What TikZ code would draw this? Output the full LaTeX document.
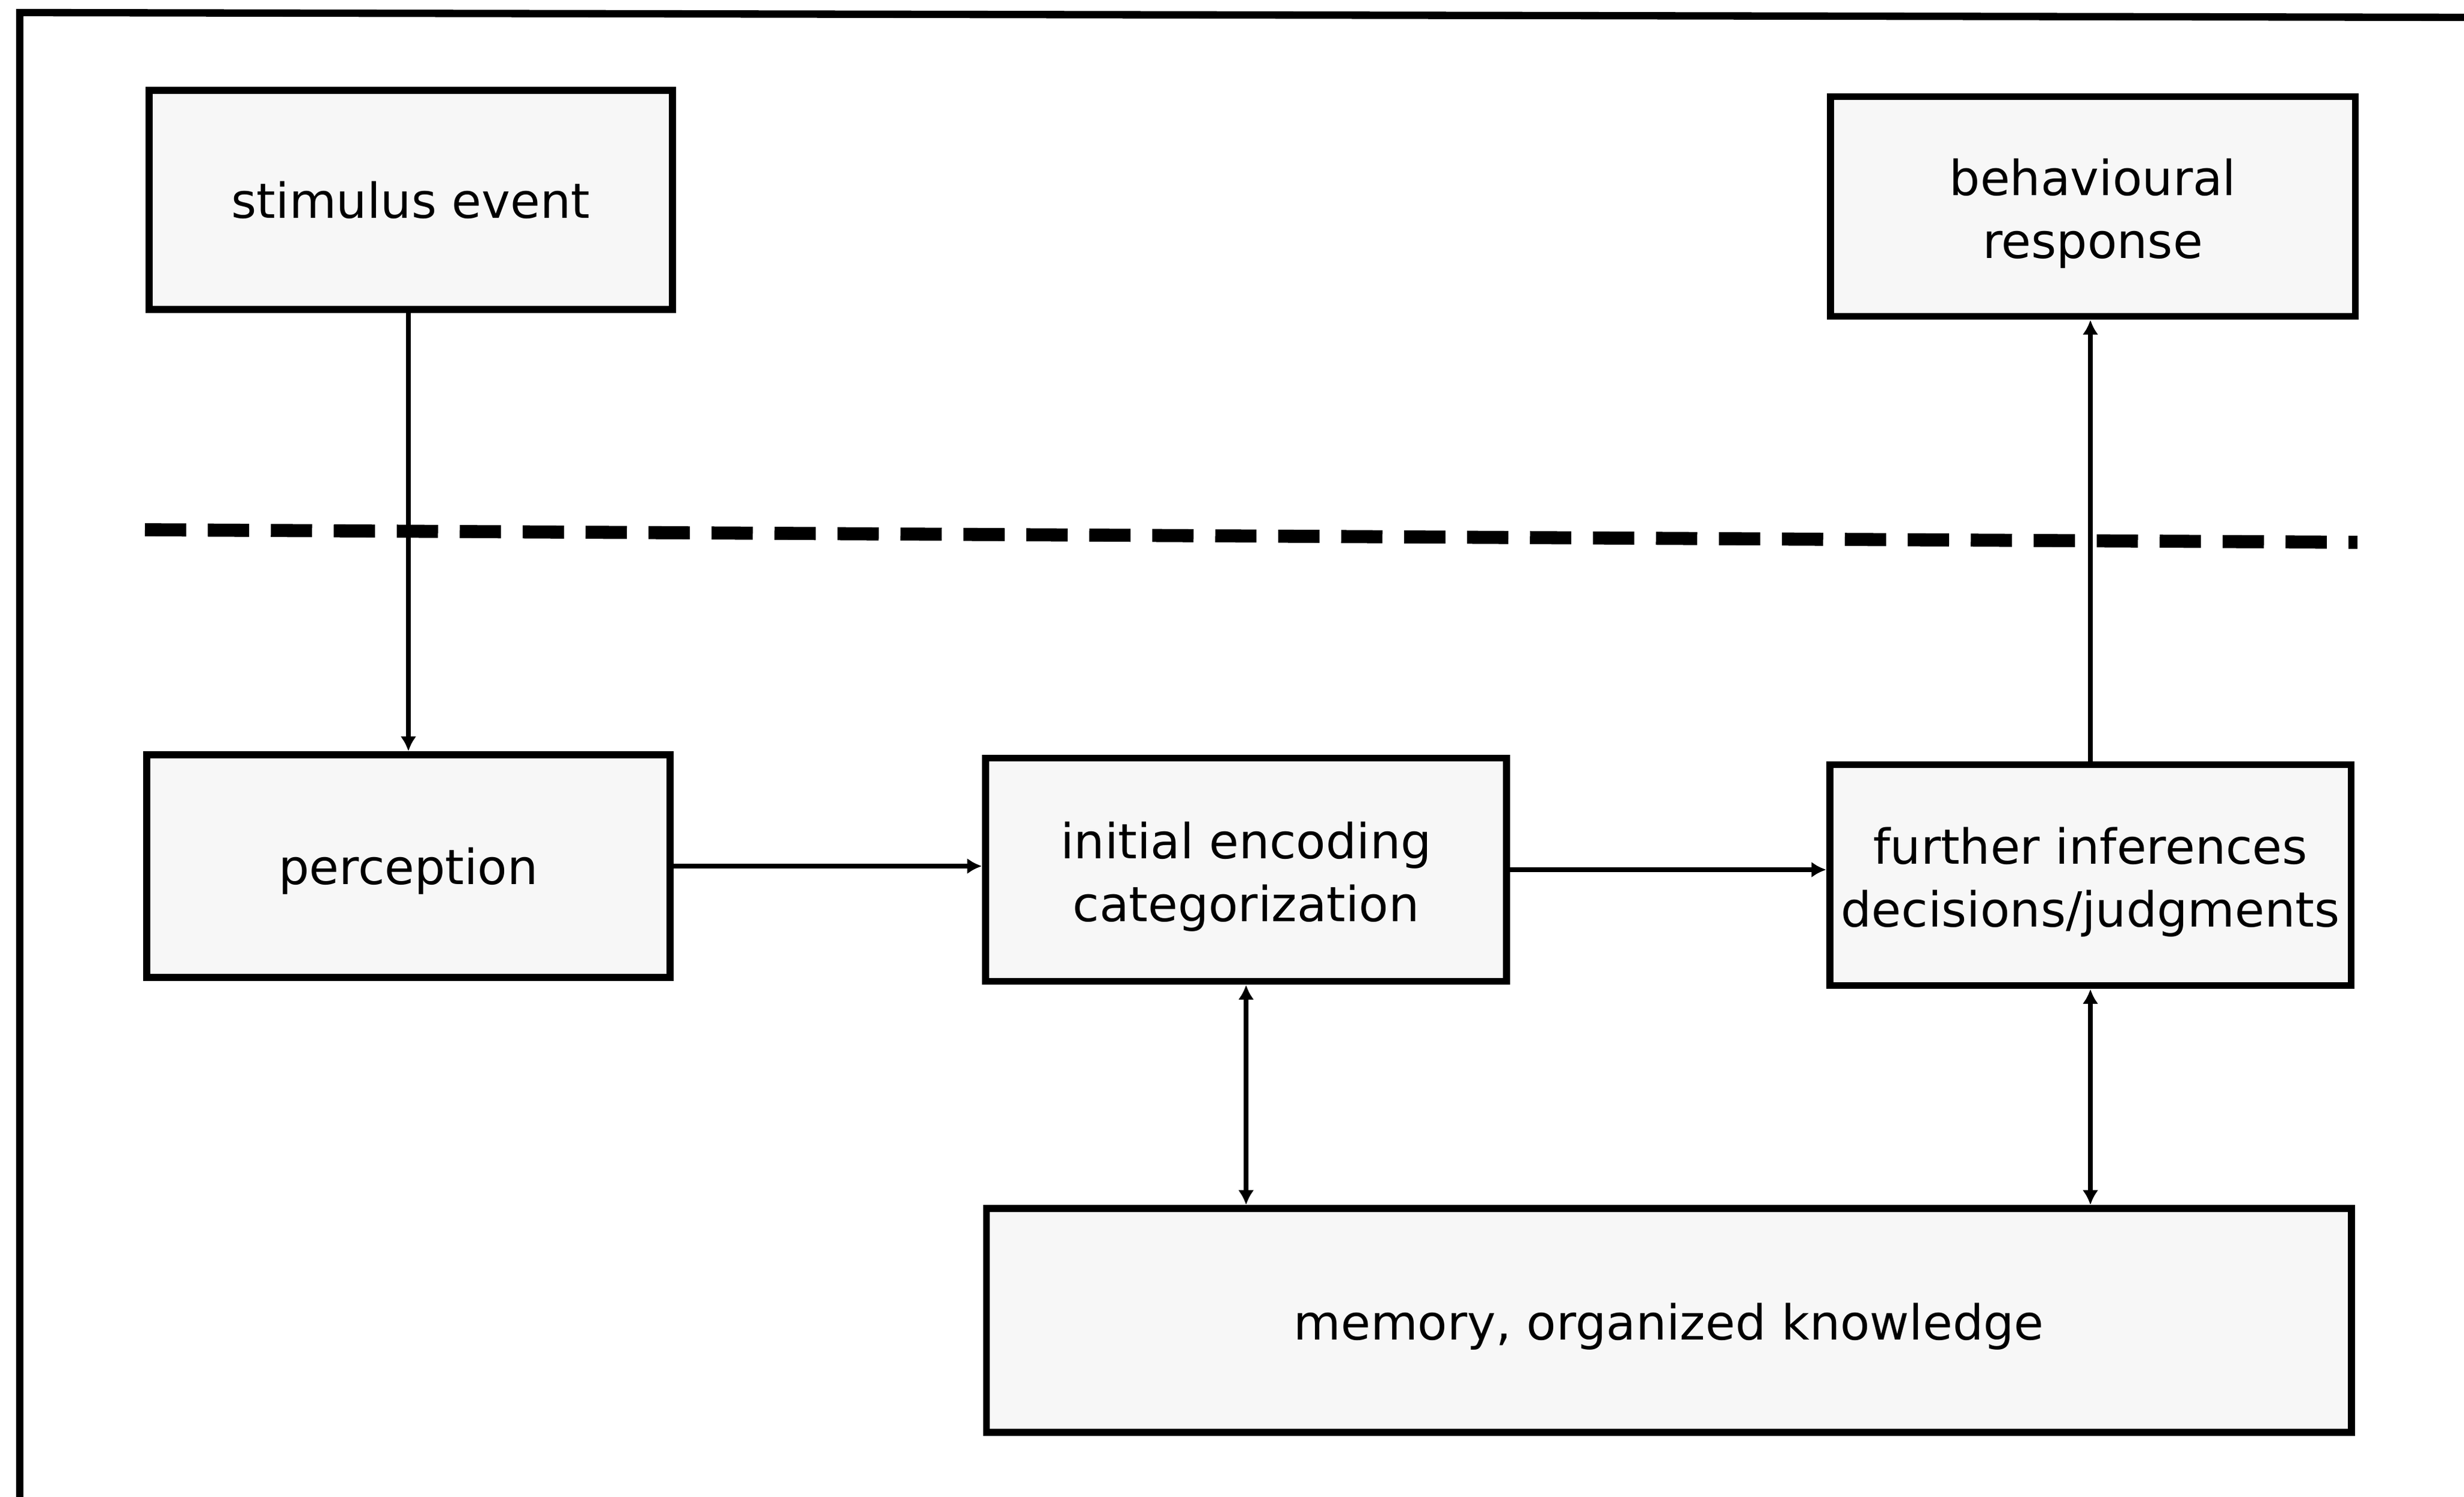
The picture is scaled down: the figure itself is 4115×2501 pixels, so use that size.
\documentclass[tikz,border=0pt]{standalone}
\usepackage{fontspec}
\setmainfont{DejaVu Sans}
\usetikzlibrary{arrows.meta}
\newcommand{\tstr}[1]{\rule{0pt}{#1}}
\begin{document}
\begin{tikzpicture}[x=0.01cm,y=-0.01cm,
  box/.style={draw, line width=3.3pt, fill=black!3, align=center,
    font=\fontsize{23}{30}\selectfont, inner sep=0pt},
  conn/.style={line width=2.4pt, -{Latex[length=7pt,width=7.5pt]}},
  biconn/.style={line width=2.4pt, {Latex[length=7pt,width=7.5pt]}-{Latex[length=7pt,width=7.5pt]}},
  framestyle/.style={line width=3.5pt, line cap=rect},
  divider/.style={line width=6.2pt, dash pattern=on 19.6pt off 10.3pt}]
\useasboundingbox (0,0) rectangle (4115,2501);
% outer frame (only left and top edges visible)
\coordinate (fbl) at (33,2501);
\coordinate (ftl) at (33,21);
\coordinate (ftr) at (4115,29);
\draw[framestyle] (fbl) -- (ftl) -- (ftr);
% boxes
\node[box, minimum width=8.73cm, minimum height=3.66cm] (stim) at (686,334) {stimulus event};
\node[box, minimum width=8.76cm, minimum height=3.67cm] (beh) at (3495,345) {\tstr{24pt}behavioural\\response};
\node[box, minimum width=8.73cm, minimum height=3.72cm] (perc) at (682,1447) {\tstr{22pt}perception};
\node[box, minimum width=8.70cm, minimum height=3.73cm] (enc) at (2081,1453) {\tstr{24pt}initial encoding\\categorization};
\node[box, minimum width=8.70cm, minimum height=3.69cm] (fur) at (3491,1462) {\tstr{24pt}further inferences\\decisions/judgments};
\node[box, minimum width=22.78cm, minimum height=3.74cm] (mem) at (2787,2206) {\tstr{23pt}memory, organized knowledge};
% dashed divider
\coordinate (dl) at (242,885);
\coordinate (dr) at (3937,906);
\draw[divider] (dl) -- (dr);
% connectors
\draw[conn] (perc.north |- stim.south) -- (perc.north);
\draw[conn] (perc.east) -- (perc.east -| enc.west);
\draw[conn] (enc.east) -- (enc.east -| fur.west);
\draw[conn] (fur.north) -- (fur.north |- beh.south);
\draw[biconn] (enc.south) -- (enc.south |- mem.north);
\draw[biconn] (fur.south) -- (fur.south |- mem.north);
\end{tikzpicture}
\end{document}
